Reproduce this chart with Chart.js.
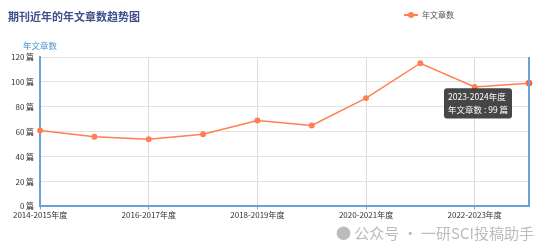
<!DOCTYPE html>
<html>
<head>
<meta charset="utf-8">
<script src="https://cdn.jsdelivr.net/npm/chart.js@4.4.1/dist/chart.umd.min.js"></script>
<style>
  body { margin: 0; background: #fff; font-family: "Noto Sans CJK SC", "Noto Sans", sans-serif; }
  #wrap { position: relative; width: 554px; height: 252px; }
  #title { position: absolute; left: 8px; top: 8px; font-size: 11px; font-weight: bold; color: #3d4f8c; }
  #legend { position: absolute; left: 404px; top: 9px; font-size: 8px; color: #555; display: flex; align-items: center; }
  #legend .mk { position: relative; width: 14px; height: 2px; background: #ff7f50; margin-right: 4px; }
  #legend .mk:after { content: ""; position: absolute; left: 4px; top: -2px; width: 6px; height: 6px; border-radius: 50%; background: #ff7f50; }
  #mark { position: absolute; left: 336px; top: 222px; font-size: 15px; color: #bcbcbc; }
  canvas { position: absolute; left: 0; top: 0; }
</style>
</head>
<body>
<div id="wrap">
  <canvas id="trend-chart" width="554" height="252"></canvas>
  <div id="title">期刊近年的年文章数趋势图</div>
  <div id="legend"><span class="mk"></span>年文章数</div>
  <div id="mark">● 公众号 · 一研SCI投稿助手</div>
</div>
<script>
const years = ['2014-2015年度', '2015-2016年度', '2016-2017年度', '2017-2018年度', '2018-2019年度',
    '2019-2020年度', '2020-2021年度', '2021-2022年度', '2022-2023年度', '2023-2024年度'];
const articleCounts = [61, 56, 54, 58, 69, 65, 87, 115, 96, 99];
const yTicks = [0, 20, 40, 60, 80, 100, 120];
const seriesName = '年文章数';
const unit = '篇';

const axisBlue = '#6aa3d5';

// extra bits the chart needs: y title on top, right frame line
const extras = {
    id: 'extras',
    afterDraw(chart) {
        const ctx = chart.ctx;
        const area = chart.chartArea;
        ctx.save();
        ctx.strokeStyle = axisBlue;
        ctx.lineWidth = 2;
        ctx.beginPath();
        ctx.moveTo(area.right, area.top);
        ctx.lineTo(area.right, area.bottom);
        ctx.stroke();
        ctx.fillStyle = '#4a90c8';
        ctx.font = '8.5px "Noto Sans CJK SC"';
        ctx.textAlign = 'center';
        ctx.fillText(seriesName, area.left, area.top - 8);
        ctx.restore();
    }
};

Chart.Tooltip.positioners.leftBelow = function(items) {
    if (!items.length) return false;
    const el = items[0].element;
    return { x: el.x - 20, y: el.y + 5 };
};

const chart = new Chart(document.getElementById('trend-chart'), {
    type: 'line',
    data: {
        labels: years,
        datasets: [{
            label: seriesName,
            data: articleCounts,
            borderColor: '#ff7f50',
            backgroundColor: '#ff7f50',
            borderWidth: 1.5,
            pointRadius: 2.2,
            pointHoverRadius: 3,
            tension: 0
        }]
    },
    options: {
        responsive: false,
        animation: false,
        layout: { padding: { top: 57, right: 25, bottom: 31, left: 5 } },
        plugins: {
            legend: { display: false },
            title: { display: false },
            tooltip: {
                position: 'leftBelow',
                xAlign: 'right',
                yAlign: 'top',
                caretSize: 0,
                caretPadding: 0,
                cornerRadius: 3,
                displayColors: false,
                backgroundColor: 'rgba(50,50,50,0.9)',
                titleColor: '#fff',
                bodyColor: '#fff',
                titleFont: { size: 8.5, weight: 'normal', family: 'Noto Sans CJK SC' },
                bodyFont: { size: 8.5, family: 'Noto Sans CJK SC' },
                titleMarginBottom: 2,
                padding: 4,
                callbacks: {
                    label: item => `${seriesName} : ${item.parsed.y} ${unit}`
                }
            }
        },
        scales: {
            x: {
                ticks: {
                    autoSkip: false,
                    maxRotation: 0,
                    color: '#333',
                    font: { size: 8, family: 'Noto Sans CJK SC' },
                    padding: 1,
                    callback: (v, i) => (i % 2 === 0 ? years[i] : '')
                },
                grid: {
                    color: ctx => (ctx.index % 2 === 0 && ctx.index > 0 ? '#dcdcdc' : 'transparent'),
                    tickLength: 3,
                    tickColor: ctx => (ctx.index % 2 === 0 ? axisBlue : 'transparent')
                },
                border: { color: axisBlue, width: 2 }
            },
            y: {
                min: 0,
                max: 120,
                afterBuildTicks: axis => { axis.ticks = yTicks.map(v => ({ value: v })); },
                ticks: {
                    color: '#333',
                    font: { size: 8, family: 'Noto Sans CJK SC' },
                    padding: 6,
                    callback: v => `${v} ${unit}`
                },
                grid: { color: '#e3e3e3', drawTicks: false },
                border: { color: axisBlue, width: 2 }
            }
        }
    },
    plugins: [extras]
});

const last = articleCounts.length - 1;
chart.setActiveElements([{ datasetIndex: 0, index: last }]);
chart.tooltip.setActiveElements([{ datasetIndex: 0, index: last }], { x: 0, y: 0 });
chart.update();
</script>
</body>
</html>
